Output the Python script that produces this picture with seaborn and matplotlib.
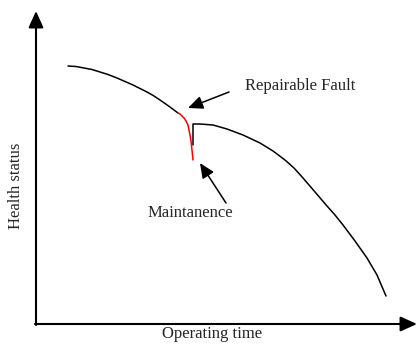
import numpy as np
import matplotlib
matplotlib.use('Agg')
import matplotlib.pyplot as plt
import seaborn as sns

# values (operating time, health status)
wear_time = [32, 40, 48, 56, 64, 72, 81, 89, 97, 104, 111, 118, 124, 129, 134, 138, 142]
wear_health = [258, 257.5, 256, 254.5, 252, 249.5, 246, 242.5, 239, 235.5, 232, 228,
               224, 220.5, 217, 214, 211]

fault_time = [142, 144, 146, 148, 150, 152, 153, 154, 155, 156, 157]
fault_health = [211, 210, 208, 206, 203, 199, 194, 189, 183, 174, 164]

repair_time = [157, 157, 164, 177, 191, 207, 224, 237, 249, 258, 267, 279, 291, 299,
               307, 319, 331, 341, 350]
repair_health = [179, 200, 200, 199, 195, 189, 181, 173, 164, 156, 146, 132, 118, 109,
                 99, 83, 66, 49, 28]

x_label = 'Operating time'
y_label = 'Health status'
fault_label = 'Repairable Fault'
maint_label = 'Maintanence'

sns.set_style('white')
plt.rcParams['font.family'] = ['Liberation Serif', 'DejaVu Serif']

fig = plt.figure(figsize=(4.17, 3.49), dpi=100)
ax = fig.add_axes([0, 0, 1, 1])
ax.set_xlim(-36, 381)
ax.set_ylim(-25, 324)
ax.axis('off')

# axes with arrow heads
ax.annotate('', xy=(0, 313), xytext=(0, -1),
            arrowprops=dict(arrowstyle='-|>,head_length=1.0,head_width=0.45',
                            color='black', lw=1.5, shrinkA=0, shrinkB=0))
ax.annotate('', xy=(381, 0), xytext=(-1, 0),
            arrowprops=dict(arrowstyle='-|>,head_length=1.0,head_width=0.45',
                            color='black', lw=1.5, shrinkA=0, shrinkB=0))

sns.lineplot(x=wear_time, y=wear_health, sort=False, estimator=None,
             color='black', lw=1.1, ax=ax)
sns.lineplot(x=repair_time, y=repair_health, sort=False, estimator=None,
             color='black', lw=1.1, ax=ax)
sns.lineplot(x=fault_time, y=fault_health, sort=False, estimator=None,
             color='red', lw=1.1, ax=ax)

# callouts
arrow = dict(arrowstyle='-|>,head_length=0.9,head_width=0.4',
             color='black', lw=1.1, shrinkA=0, shrinkB=0)
ax.annotate('', xy=(152, 216), xytext=(193, 232), arrowprops=arrow)
ax.annotate('', xy=(164, 161), xytext=(190, 121), arrowprops=arrow)

ax.text(209, 238, fault_label, fontsize=12, ha='left', va='center')
ax.text(154, 111, maint_label, fontsize=12, ha='center', va='center')
ax.text(-20, 138, y_label, fontsize=12, ha='center', va='center', rotation=90)
ax.text(176, -10, x_label, fontsize=12, ha='center', va='center')

fig.savefig('out.png', dpi=100)
